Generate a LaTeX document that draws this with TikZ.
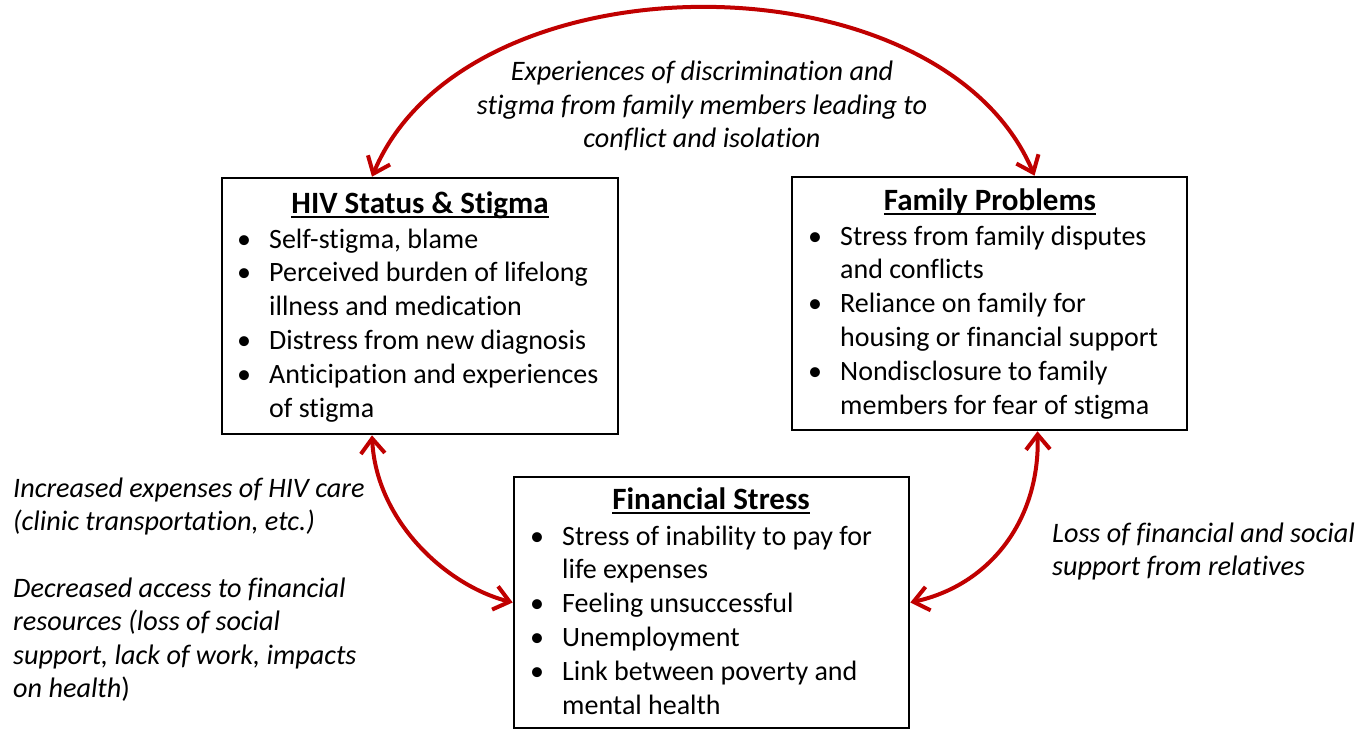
\documentclass[tikz,border=0pt]{standalone}
\usepackage{fontspec}
\setmainfont{Carlito}[Ligatures={NoCommon}]
\usetikzlibrary{arrows.meta}
\definecolor{linkred}{RGB}{192,0,0}
% underline drawn as a rule just below the baseline
\newcommand\titleul[1]{\setbox0\hbox{#1}\rlap{\rule[-5pt]{\wd0}{1.6pt}}\box0}
\tikzset{
  box/.style={draw=black, line width=2.6pt, rectangle, inner sep=0pt},
  body/.style={font=\fontsize{28}{33.8}\selectfont, inner sep=0pt},
  title/.style={font=\bfseries\fontsize{31}{36}\selectfont, inner sep=0pt, anchor=base},
  note/.style={font=\itshape\fontsize{28.2}{33.4}\selectfont, inner sep=0pt},
  link/.style={draw=linkred, line width=4pt,
    {Straight Barb[length=15pt,width=24pt]}-{Straight Barb[length=15pt,width=24pt]}}
}
\begin{document}
\begin{tikzpicture}[x=1pt, y=-1pt]
\useasboundingbox (0,0) rectangle (1372,730);
\fill[white] (0,0) rectangle (1372,730);

% boxes
\node[box, minimum width=396pt, minimum height=256pt] (hiv) at (420,306) {};
\node[box, minimum width=395pt, minimum height=253pt] (fam) at (989.5,303.5) {};
\node[box, minimum width=395pt, minimum height=251pt] (fin) at (711.5,602.5) {};

% box contents
\node[title] (hivtitle) at (420,213) {\titleul{HIV Status \& Stigma}};
\node[body, anchor=base west] (hivlist) at (237,248) {%
  \begin{tabular}[t]{@{}p{32pt}@{}l@{}}
  \textbullet & Self-stigma, blame\\
  \textbullet & Perceived burden of lifelong\\
              & illness and medication\\
  \textbullet & Distress from new diagnosis\\
  \textbullet & Anticipation and experiences\\
              & of stigma
  \end{tabular}};

\node[title] (famtitle) at (990,210) {\titleul{Family Problems}};
\node[body, anchor=base west] (famlist) at (808,245) {%
  \begin{tabular}[t]{@{}p{32pt}@{}l@{}}
  \textbullet & Stress from family disputes\\
              & and conflicts\\
  \textbullet & Reliance on family for\\
              & housing or financial support\\
  \textbullet & Nondisclosure to family\\
              & members for fear of stigma
  \end{tabular}};

\node[title] (fintitle) at (711,509) {\titleul{Financial Stress}};
\node[body, anchor=base west] (finlist) at (530,545) {%
  \begin{tabular}[t]{@{}p{32pt}@{}l@{}}
  \textbullet & Stress of inability to pay for\\
              & life expenses\\
  \textbullet & Feeling unsuccessful\\
  \textbullet & Unemployment\\
  \textbullet & Link between poverty and\\
              & mental health
  \end{tabular}};

% connector labels
\node[note, anchor=base] (toplabel) at (702,81) {%
  \begin{tabular}[t]{@{}c@{}}
  Experiences of discrimination and\\
  stigma from family members leading to\\
  conflict and isolation
  \end{tabular}};
\node[note, anchor=base west] (leftlabel) at (13,497) {%
  \begin{tabular}[t]{@{}l@{}}
  Increased expenses of HIV care\\
  (clinic transportation, etc.)\\
  \\
  Decreased access to financial\\
  resources (loss of social\\
  support, lack of work, impacts\\
  on health\upshape)
  \end{tabular}};
\node[note, anchor=base west] (rightlabel) at (1052,542) {%
  \begin{tabular}[t]{@{}l@{}}
  Loss of financial and social\\
  support from relatives
  \end{tabular}};

% connectors
\draw[link] ([xshift=-48pt]hiv.north) .. controls (466,-48) and (940,-48) .. ([xshift=45pt]fam.north);
\draw[link] ([xshift=-48pt]hiv.south) .. controls (376,520) and (445,585) .. (fin.west);
\draw[link] ([xshift=48pt]fam.south) .. controls (1040,520) and (990,585) .. (fin.east);
\end{tikzpicture}
\end{document}
